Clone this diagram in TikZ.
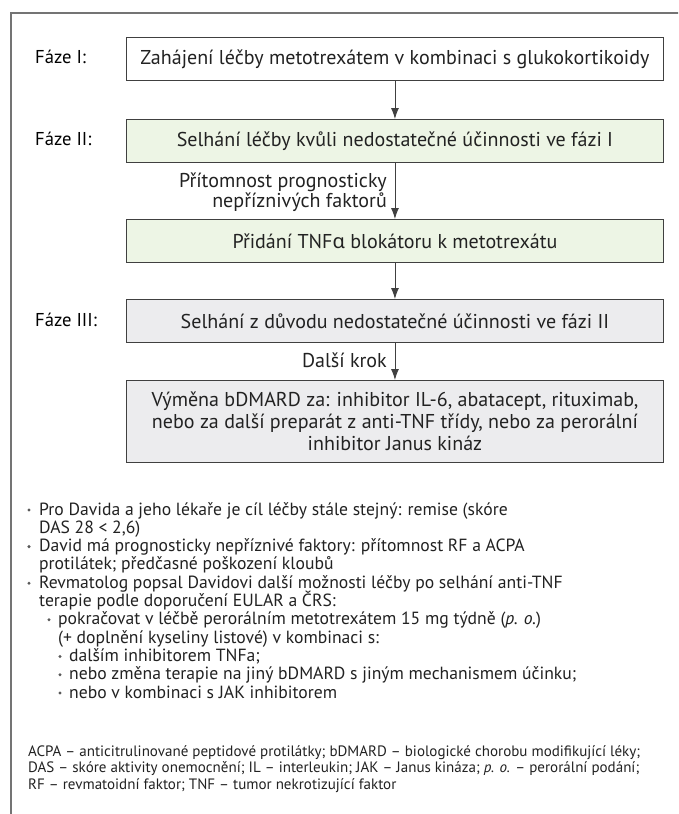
\documentclass[tikz,border=0pt]{standalone}
\usepackage{fontspec}
\setmainfont{PT Sans}
\newfontfamily\grk{Noto Sans}
\usetikzlibrary{arrows.meta}
\definecolor{framec}{HTML}{747474}
\definecolor{boxline}{HTML}{404040}
\definecolor{greenfill}{HTML}{EDF5E5}
\definecolor{grayfill}{HTML}{ECECEE}
\definecolor{txt}{HTML}{222222}
\newlength\mw
\begin{document}
\settowidth\mw{\fontsize{10}{12}\selectfont Zahájení léčby metotrexátem v kombinaci s glukokortikoidy}%
\pgfmathsetmacro\bfs{10*509/\mw}%
\settowidth\mw{\fontsize{10}{12}\selectfont ACPA – anticitrulinované peptidové protilátky; bDMARD – biologické chorobu modifikující léky;}%
\pgfmathsetmacro\ffs{10*612/\mw}%
\pgfmathsetmacro\lfs{1.0*\bfs}%
\pgfmathsetmacro\pfs{0.93*\bfs}%
\pgfmathsetmacro\ufs{0.88*\bfs}%
\begin{tikzpicture}[x=1pt,y=-1pt,
  stagebox/.style={draw=boxline, line width=0.9pt, minimum width=537pt, minimum height=43pt,
    inner sep=0pt, font=\fontsize{\bfs}{22}\selectfont, text=txt, anchor=north west, align=center},
  phase/.style={anchor=west, inner sep=0pt, font=\fontsize{\pfs}{22}\selectfont, text=black},
  lab/.style={inner sep=0pt, font=\fontsize{\lfs}{20.5}\selectfont, text=txt, align=right},
  arr/.style={-{Latex[length=11pt,width=8pt]}, line width=0.9pt, draw=boxline},
  bul/.style={circle, fill=txt!75, draw=none, inner sep=0pt, minimum size=3.3pt},
  btext/.style={anchor=base west, inner sep=0pt, font=\fontsize{\ufs}{18}\selectfont, text=txt},
  foot/.style={anchor=base west, inner sep=0pt, font=\fontsize{\ffs}{16.5}\selectfont, text=txt}
]
\useasboundingbox (0,0) rectangle (678,814);
\clip (0,0) rectangle (678,814);
\fill[white] (0,0) rectangle (678,814);
\draw[framec, line width=1.1pt] (11,13) rectangle (720,860);

\node[stagebox] (b1) at (126,37) {Zahájení léčby metotrexátem v kombinaci s glukokortikoidy};
\node[stagebox, fill=greenfill] (b2) at (126,119) {Selhání léčby kvůli nedostatečné účinnosti ve fázi I};
\node[stagebox, fill=greenfill] (b3) at (126,219) {Přidání TNF{\grk α} blokátoru k metotrexátu};
\node[stagebox, fill=grayfill] (b4) at (126,299) {Selhání z důvodu nedostatečné účinnosti ve fázi II};
\node[stagebox, fill=grayfill, minimum height=82pt] (b5) at (126,380) {Výměna bDMARD za: inhibitor IL-6, abatacept, rituximab,\\nebo za další preparát z anti-TNF třídy, nebo za perorální\\inhibitor Janus kináz};

\node[phase] (p1) at (35,57) {Fáze I:};
\node[phase] (p2) at (35,139) {Fáze II:};
\node[phase] (p3) at (35,320) {Fáze III:};

\draw[arr] (b1) -- (b2);
\draw[arr] (b2) -- (b3);
\draw[arr] (b3) -- (b4);
\draw[arr] (b4) -- (b5);

\node[lab, anchor=east] (l1) at (387,192) {Přítomnost prognosticky\\nepříznivých faktorů};
\node[lab, anchor=east] (l2) at (387,360) {Další krok};

% bullet list (one text node per printed line; baselines)
\node[bul] (d1) at (29,510) {};
\node[btext] (t1a) at (39,515) {Pro Davida a jeho lékaře je cíl léčby stále stejný: remise (skóre};
\node[btext] (t1b) at (39,533.3) {DAS 28 < 2,6)};
\node[bul] (d2) at (29,546.6) {};
\node[btext] (t2a) at (39,551.6) {David má prognosticky nepříznivé faktory: přítomnost RF a ACPA};
\node[btext] (t2b) at (39,569.9) {protilátek; předčasné poškození kloubů};
\node[bul] (d3) at (29,583.2) {};
\node[btext] (t3a) at (39,588.2) {Revmatolog popsal Davidovi další možnosti léčby po selhání anti-TNF};
\node[btext] (t3b) at (39,606.5) {terapie podle doporučení EULAR a ČRS:};
\node[bul] (d4) at (49,619.8) {};
\node[btext] (t4a) at (58,624.8) {pokračovat v léčbě perorálním metotrexátem 15 mg týdně (\textit{p. o.})};
\node[btext] (t4b) at (58,643.1) {(+ doplnění kyseliny listové) v kombinaci s:};
\node[bul] (d5) at (60,656.4) {};
\node[btext] (t5) at (69,661.4) {dalším inhibitorem TNFa;};
\node[bul] (d6) at (60,674.7) {};
\node[btext] (t6) at (69,679.7) {nebo změna terapie na jiný bDMARD s jiným mechanismem účinku;};
\node[bul] (d7) at (60,693) {};
\node[btext] (t7) at (69,698) {nebo v kombinaci s JAK inhibitorem};

\node[foot] (f1) at (28,756) {ACPA – anticitrulinované peptidové protilátky; bDMARD – biologické chorobu modifikující léky;};
\node[foot] (f2) at (28,772.5) {DAS – skóre aktivity onemocnění; IL – interleukin; JAK – Janus kináza; \textit{p. o.} – perorální podání;};
\node[foot] (f3) at (28,789) {RF – revmatoidní faktor; TNF – tumor nekrotizující faktor};
\end{tikzpicture}
\end{document}
